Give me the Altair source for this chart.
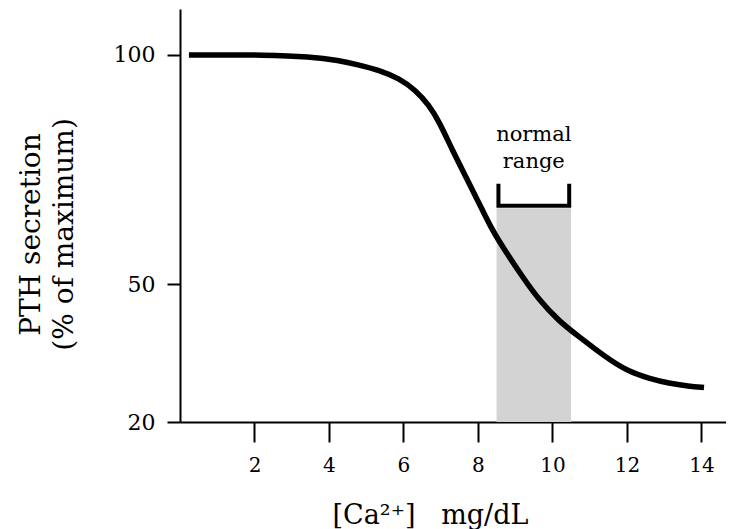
import altair as alt
import pandas as pd

# curve
ca = [0.24, 2.4, 3.46, 4.27, 4.81, 5.34, 5.88, 6.33, 6.68, 6.95, 7.31, 7.67, 8.03,
      8.38, 8.74, 9.19, 9.64, 10.17, 10.71, 11.16, 11.55, 12.05, 12.59, 13.13, 13.66, 14.07]
pth = [100.0, 100.0, 99.6, 98.8, 97.8, 96.7, 94.9, 92.3, 89.1, 85.6, 79.3, 73.5, 67.7,
       61.8, 57.2, 51.7, 46.6, 42.0, 38.6, 35.8, 33.5, 31.0, 29.5, 28.4, 27.8, 27.5]

# normal range band
range_lo = [8.5]
range_hi = [10.5]
band_bottom = [20]
band_top = [66.6]

# bracket
bracket_x = [8.55, 8.55, 10.45, 10.45]
bracket_y = [71.9, 67.1, 67.1, 71.9]

labels = ["normal", "range"]
label_x = [9.5, 9.5]
label_y = [82.5, 76.7]

x_ticks = [2, 4, 6, 8, 10, 12, 14]
y_ticks = [20, 50, 100]

FONT = "DejaVu Serif"
NB = "\u00a0"

curve_df = pd.DataFrame({"ca": ca, "pth": pth})
band_df = pd.DataFrame({"x": range_lo, "x2": range_hi, "y": band_bottom, "y2": band_top})
bracket_df = pd.DataFrame({"x": bracket_x, "y": bracket_y, "o": list(range(len(bracket_x)))})
label_df = pd.DataFrame({"t": labels, "x": label_x, "y": label_y})

xscale = alt.Scale(domain=[0, 14.66], nice=False, zero=False)
yscale = alt.Scale(domain=[20, 110], nice=False, zero=False)

xaxis = alt.Axis(values=x_ticks, tickSize=20, labelPadding=13, labelFontSize=20,
                 title="[Ca²⁺]" + NB * 3 + "mg/dL", titleFontSize=27, titleFontWeight="normal",
                 titleX=250, titleY=101, titleBaseline="alphabetic", titleAnchor="start",
                 titleAlign="center", grid=False)
yaxis = alt.Axis(values=y_ticks, tickSize=13, labelPadding=12, labelFontSize=22,
                 title=["PTH secretion", "(% of maximum)"], titleFontSize=28,
                 titleFontWeight="normal", titleAngle=270, titleX=-149, titleY=225,
                 titleBaseline="middle", titleAlign="center", titleLineHeight=33,
                 grid=False)

band = alt.Chart(band_df).mark_rect(color="#d3d3d3").encode(
    x=alt.X("x:Q", scale=xscale, axis=xaxis),
    x2="x2:Q",
    y=alt.Y("y:Q", scale=yscale, axis=yaxis),
    y2="y2:Q",
)

curve = alt.Chart(curve_df).mark_line(color="black", strokeWidth=5.5, interpolate="basis").encode(
    x=alt.X("ca:Q", scale=xscale),
    y=alt.Y("pth:Q", scale=yscale),
)

bracket = alt.Chart(bracket_df).mark_line(color="black", strokeWidth=4, strokeJoin="miter",
                                          strokeCap="butt").encode(
    x=alt.X("x:Q", scale=xscale),
    y=alt.Y("y:Q", scale=yscale),
    order="o:Q",
)

text = alt.Chart(label_df).mark_text(font=FONT, fontSize=21, color="black",
                                     baseline="middle", align="center").encode(
    x=alt.X("x:Q", scale=xscale),
    y=alt.Y("y:Q", scale=yscale),
    text="t:N",
)

chart = alt.layer(band, curve, bracket, text).properties(
    width=546, height=413,
    autosize=alt.AutoSizeParams(type="none"),
    padding={"left": 172, "top": 1, "right": 0, "bottom": 112},
    background="white",
).configure_view(stroke=None).configure_axis(
    domainColor="black", domainWidth=2, tickColor="black", tickWidth=2,
    labelColor="black", titleColor="black", labelFont=FONT, titleFont=FONT,
)

chart.save("out.html", embed_options={"renderer": "svg", "actions": False})
